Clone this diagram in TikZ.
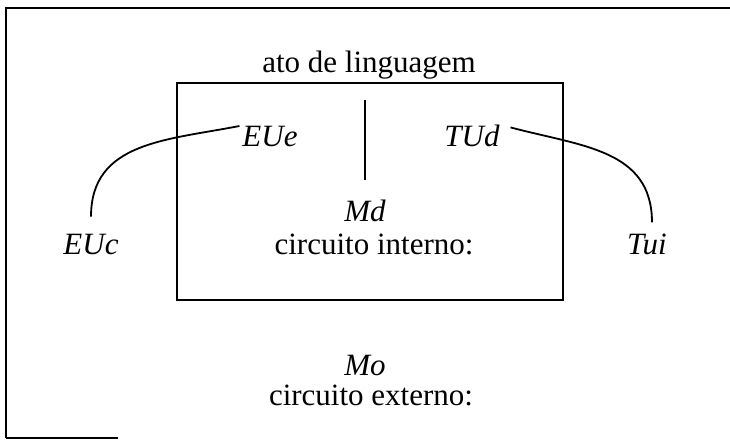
\documentclass[tikz,border=0pt]{standalone}
\usepackage{fontspec}
\setmainfont{Liberation Serif}
\usetikzlibrary{positioning}

\begin{document}
\begin{tikzpicture}[x=1pt, y=-1pt, line width=2pt,
		every node/.style={font=\fontsize{31}{36}\selectfont, inner sep=2pt, anchor=base},
		role/.style={font=\fontsize{31}{36}\selectfont\itshape},
		every edge/.style={draw, line width=1.8pt}]
		\useasboundingbox (0,0) rectangle (730,443);
		% Frames
		\draw (6,438) -- (6,8) -- (730,8);
		\draw (6,438) -- (118,438);
		\draw (177,83) rectangle (563,300);

		% Nodes
		\node (ato) at (369,73) {ato de linguagem};
		\node[role] (eue) at (270,147) {EUe};
		\node[role] (tud) at (472,147) {TUd};
		\node[role] (md) at (365,222) {Md};
		\node (cint) at (374,255) {circuito interno:};
		\node[role] (euc) at (91,255) {EUc};
		\node[role] (tui) at (647,255) {Tui};
		\node[role] (mo) at (365,375) {Mo};
		\node (cext) at (371,405) {circuito externo:};
		\coordinate (top) at (365,100);

		% Edges
		\draw (top) edge ([yshift=17pt]md.north);
		\draw ([yshift=15pt]euc.north) edge[out=90, in=191, looseness=1.1] ([yshift=11pt]eue.west);
		\draw ([xshift=8pt, yshift=9pt]tud.east) edge[out=-15, in=90, looseness=1.1] ([xshift=5pt, yshift=9pt]tui.north);
	\end{tikzpicture}
\end{document}
